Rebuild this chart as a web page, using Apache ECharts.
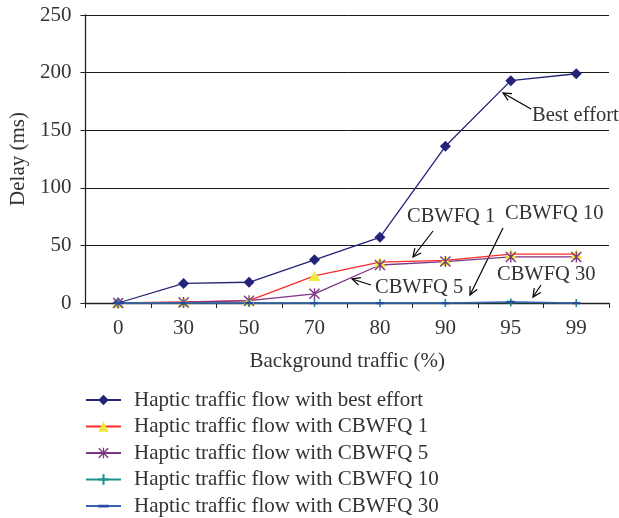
<!DOCTYPE html>
<html>
<head>
<meta charset="utf-8">
<script src="https://cdn.jsdelivr.net/npm/echarts@6/dist/echarts.min.js"></script>
<style>
  html, body { margin: 0; padding: 0; background: #fff; }
  #chart { width: 619px; height: 518px; }
</style>
</head>
<body>
<div id="chart"></div>
<script>
// Background traffic levels (%)
const categories = ['0', '30', '50', '70', '80', '90', '95', '99'];

// Delay (ms) of the haptic flow under each queuing scheme
const bestEffort = [0, 17, 18, 37.5, 57, 136, 193, 199];
const cbwfq1 = [0, 1, 2, 23.5, 35.5, 37, 42.5, 42.5];
const cbwfq5 = [0, 0.5, 2, 8, 33, 36, 40, 40];
const cbwfq10 = [0, 0, 0, 0, 0, 0, 0.5, 0];
const cbwfq30 = [0, 0, 0, 0, 0, 0, 1, 0];

const seriesNames = [
  'Haptic traffic flow with best effort',
  'Haptic traffic flow with CBWFQ 1',
  'Haptic traffic flow with CBWFQ 5',
  'Haptic traffic flow with CBWFQ 10',
  'Haptic traffic flow with CBWFQ 30'
];

const FONT = '"Liberation Serif", "DejaVu Serif", serif';
const TEXT = '#333';
const FS = 21;

// Marker shapes
const asterisk = 'path://M4.4,0 L5.6,0 L5.6,10 L4.4,10 Z M0,0.9 L0.9,0 L10,9.1 L9.1,10 Z M9.1,0 L10,0.9 L0.9,10 L0,9.1 Z';
const plus = 'path://M4,0 L6,0 L6,4 L10,4 L10,6 L6,6 L6,10 L4,10 L4,6 L0,6 L0,4 L4,4 Z';
// short horizontal bar inside a square box (tiny corner specks keep the box square)
const dash = 'path://M0,0 L0.01,0 L0,0.01 Z M0,3 L8,3 L8,5.2 L0,5.2 Z M8,8 L7.99,8 L8,7.99 Z';

function lineSeries(name, data, lineColor, symbol, size, symColor) {
  return {
    name: name,
    type: 'line',
    data: data,
    symbol: symbol,
    symbolSize: size,
    symbolKeepAspect: true,
    showAllSymbol: true,
    lineStyle: { color: lineColor, width: 1.3 },
    itemStyle: { color: symColor, borderWidth: 0 },
    emphasis: { disabled: true },
    animation: false
  };
}

// Callout arrow: shaft from (x1,y1) to head at (x2,y2) with an open V head
function arrow(x1, y1, x2, y2) {
  const a = Math.atan2(y1 - y2, x1 - x2);
  const L = 9, w = 0.45;
  const p1 = [x2 + L * Math.cos(a + w), y2 + L * Math.sin(a + w)];
  const p2 = [x2 + L * Math.cos(a - w), y2 + L * Math.sin(a - w)];
  const st = { stroke: '#000', lineWidth: 1.2, fill: null };
  return [
    { type: 'line', shape: { x1: x1, y1: y1, x2: x2, y2: y2 }, style: st, silent: true },
    { type: 'polyline', shape: { points: [p1, [x2, y2], p2] }, style: st, silent: true }
  ];
}

function note(text, x, y) {
  return {
    type: 'text', x: x, y: y, silent: true,
    style: { text: text, font: '20.5px ' + FONT, fill: TEXT, textVerticalAlign: 'middle' }
  };
}

const chart = echarts.init(document.getElementById('chart'), null, { renderer: 'canvas' });

chart.setOption({
  backgroundColor: '#fff',
  animation: false,
  grid: { left: 85, right: 10, top: 15, bottom: 215 },
  xAxis: {
    type: 'category',
    data: categories,
    boundaryGap: true,
    name: 'Background traffic (%)',
    nameLocation: 'middle',
    nameGap: 48,
    nameTextStyle: { fontFamily: FONT, fontSize: FS, color: TEXT },
    axisLine: { lineStyle: { color: '#222', width: 1.3 } },
    axisTick: { show: true, length: 5, lineStyle: { color: '#222' } },
    axisLabel: { fontFamily: FONT, fontSize: FS, color: TEXT, margin: 15 },
    splitLine: { show: false }
  },
  yAxis: {
    type: 'value',
    min: 0,
    max: 250,
    interval: 50,
    name: 'Delay (ms)',
    nameLocation: 'middle',
    nameGap: 56,
    nameRotate: 90,
    nameTextStyle: { fontFamily: FONT, fontSize: FS, color: TEXT },
    axisLine: { show: true, lineStyle: { color: '#222', width: 1.3 } },
    axisTick: { show: true, length: 5, lineStyle: { color: '#222' } },
    axisLabel: { fontFamily: FONT, fontSize: FS, color: TEXT, margin: 14 },
    splitLine: { show: true, lineStyle: { color: '#1a1a1a', width: 1 } }
  },
  legend: {
    orient: 'vertical',
    left: 85,
    top: 389.5,
    height: 140,
    padding: 0,
    itemWidth: 35,
    itemHeight: 13,
    itemGap: 5.5,
    textStyle: { fontFamily: FONT, fontSize: FS, lineHeight: 21, color: TEXT, padding: [0, 0, 0, 8] },
    data: seriesNames
  },
  series: [
    lineSeries(seriesNames[0], bestEffort, '#23237a', 'diamond', 11, '#23237a'),
    lineSeries(seriesNames[1], cbwfq1, '#ff2a2a', 'triangle', [12, 10], '#eeea3c'),
    lineSeries(seriesNames[2], cbwfq5, '#7d3585', asterisk, 11, '#7d3585'),
    lineSeries(seriesNames[3], cbwfq10, '#1f8f8f', plus, 8, '#1f8f8f'),
    lineSeries(seriesNames[4], cbwfq30, '#3d5fb0', dash, 8, '#2a4aa0')
  ],
  graphic: [].concat(
    [note('Best effort', 532, 116)],
    arrow(531, 109, 503, 93),
    [note('CBWFQ 1', 407, 217)],
    arrow(433, 231, 413, 257),
    [note('CBWFQ 10', 505, 214)],
    arrow(503, 228, 470, 295),
    [note('CBWFQ 5', 375, 288)],
    arrow(371, 285, 352, 279),
    [note('CBWFQ 30', 497, 275)],
    arrow(541, 285, 533, 297)
  )
});
</script>
</body>
</html>
